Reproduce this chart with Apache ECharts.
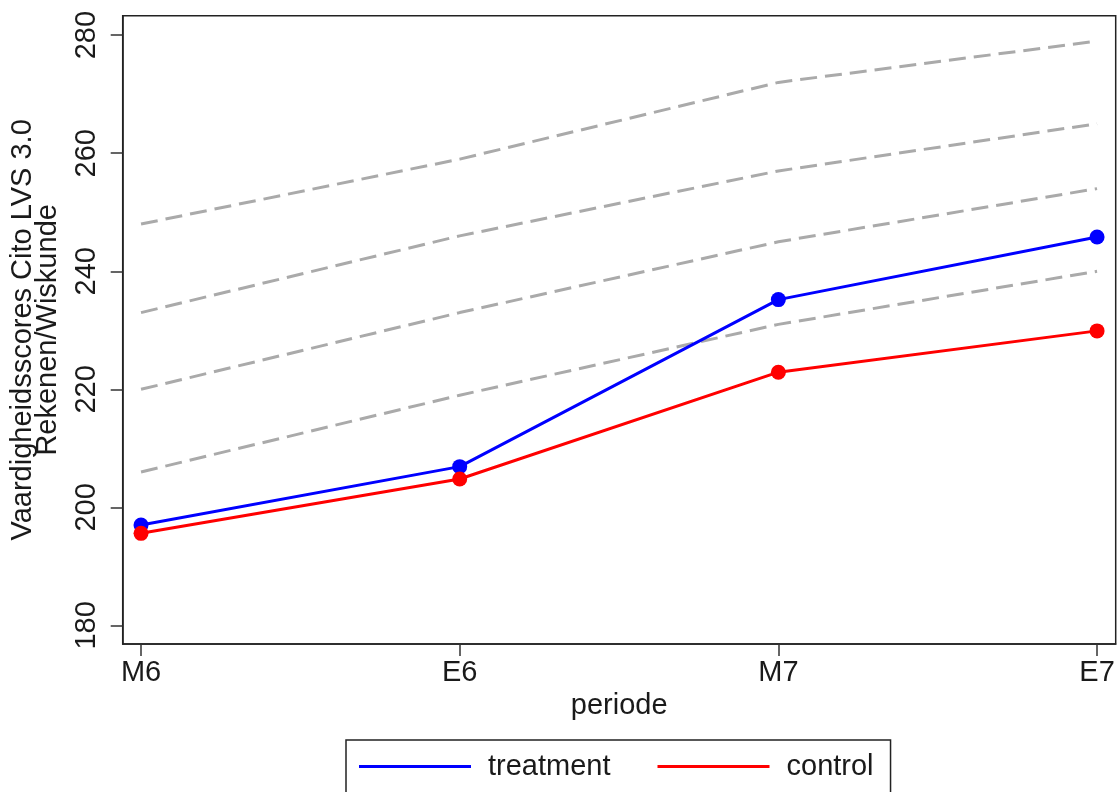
<!DOCTYPE html>
<html>
<head>
<meta charset="utf-8">
<script src="https://cdn.jsdelivr.net/npm/echarts@6/dist/echarts.min.js"></script>
<style>
html,body{margin:0;padding:0;background:#fff;}
#chart{width:1118px;height:792px;}
</style>
</head>
<body>
<div id="chart"></div>
<script>
// ---- data ----
var categories = ['M6', 'E6', 'M7', 'E7'];
var yTicks = [180, 200, 220, 240, 260, 280];
var treatment = [197.0, 206.9, 235.2, 245.8];
var control = [195.6, 204.8, 222.9, 229.9];
var ref1 = [248, 259, 272, 279];
var ref2 = [233, 246, 257, 265];
var ref3 = [220, 233, 245, 254];
var ref4 = [206, 219, 231, 240];

function pts(arr) { return arr.map(function (v, i) { return [i, v]; }); }

var FONT = 'Liberation Sans, Arial, sans-serif';
var FS = 29;
var TXT = '#1a1a1a';

var dashStyle = { color: '#aaaaaa', width: 3, type: [17, 8] };
function refSeries(name, arr) {
  return { name: name, type: 'line', data: pts(arr), symbol: 'none', silent: true,
    lineStyle: dashStyle, z: 1 };
}

var chart = echarts.init(document.getElementById('chart'));
chart.setOption({
  animation: false,
  backgroundColor: '#ffffff',
  textStyle: { fontFamily: FONT },
  grid: { left: 122.7, top: 15.7, right: 2.3, bottom: 148, show: true,
    borderColor: '#222', borderWidth: 1.5, backgroundColor: 'transparent' },
  legend: {
    data: ['treatment', 'control'],
    left: 346, top: 740,
    orient: 'horizontal',
    icon: 'rect', itemWidth: 112, itemHeight: 3, itemGap: 47,
    padding: [12, 17, 12, 13],
    borderColor: '#222', borderWidth: 1.5, borderRadius: 0,
    textStyle: { fontFamily: FONT, fontSize: FS, color: TXT, padding: [0, 0, 0, 12] }
  },
  xAxis: {
    type: 'value', min: -0.0575, max: 3.0585,
    name: 'periode', nameLocation: 'middle', nameGap: 46,
    nameTextStyle: { fontFamily: FONT, fontSize: FS, color: TXT },
    axisLine: { show: true, onZero: false, lineStyle: { color: '#222', width: 1.5 } },
    splitLine: { show: false },
    axisTick: { show: true, inside: false, length: 12, lineStyle: { color: '#333', width: 1.5 }, customValues: [0, 1, 2, 3] },
    axisLabel: { customValues: [0, 1, 2, 3], margin: 14, fontSize: FS, color: TXT, fontFamily: FONT,
      formatter: function (v) { return categories[Math.round(v)]; } }
  },
  yAxis: {
    type: 'value', min: 176.85, max: 283.3,
    name: 'Vaardigheidsscores Cito LVS 3.0\nRekenen/Wiskunde',
    nameLocation: 'middle', nameGap: 62, nameRotate: 90,
    nameTextStyle: { fontFamily: FONT, fontSize: FS, color: TXT, lineHeight: 25, align: 'center' },
    axisLine: { show: true, onZero: false, lineStyle: { color: '#222', width: 1.5 } },
    splitLine: { show: false },
    axisTick: { show: true, inside: false, length: 12, lineStyle: { color: '#333', width: 1.5 }, customValues: yTicks },
    axisLabel: { customValues: yTicks, rotate: 90, margin: 21, fontSize: FS, color: TXT, fontFamily: FONT }
  },
  series: [
    refSeries('p1', ref1), refSeries('p2', ref2), refSeries('p3', ref3), refSeries('p4', ref4),
    { name: 'treatment', type: 'line', data: pts(treatment), symbol: 'circle', symbolSize: 15,
      itemStyle: { color: '#0000ff' }, lineStyle: { color: '#0000ff', width: 3 }, z: 3 },
    { name: 'control', type: 'line', data: pts(control), symbol: 'circle', symbolSize: 15,
      itemStyle: { color: '#ff0000' }, lineStyle: { color: '#ff0000', width: 3 }, z: 4 }
  ]
});
</script>
</body>
</html>
